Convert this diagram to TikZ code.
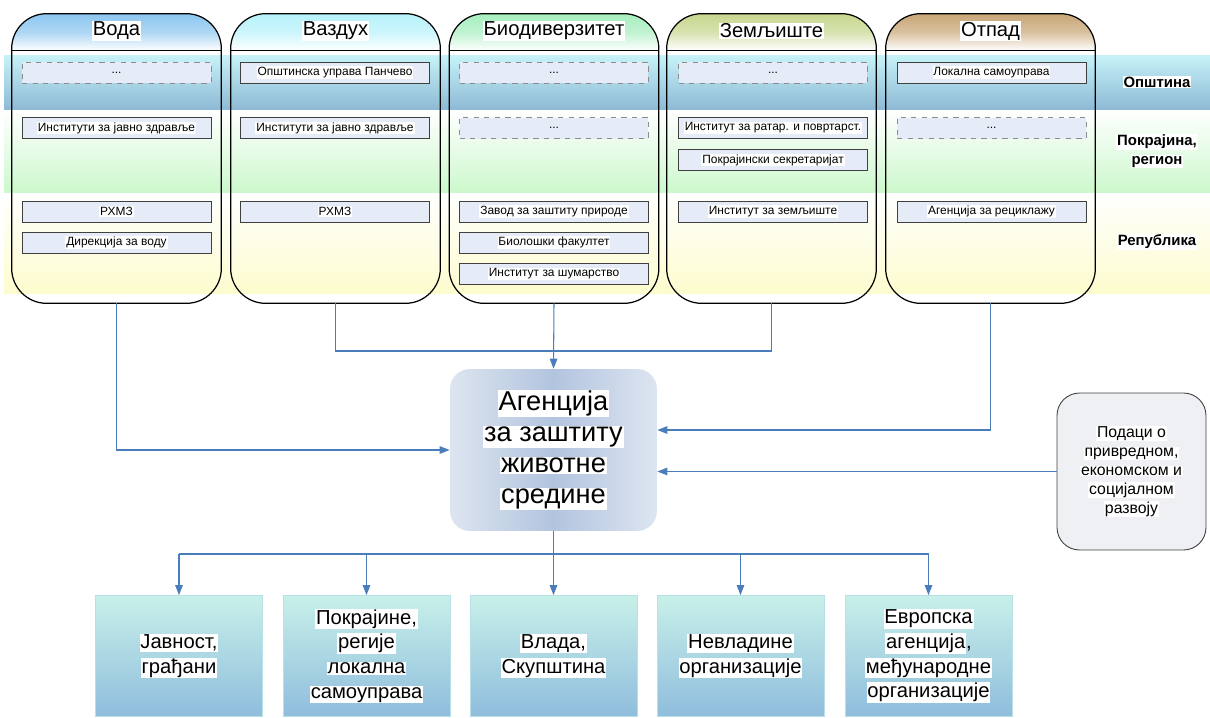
\documentclass[tikz,border=0pt]{standalone}
\usepackage{fontspec}
\setmainfont{Liberation Sans}
\usetikzlibrary{arrows.meta,positioning,calc}

\definecolor{linkblue}{HTML}{4A7EBB}
\definecolor{unitfill}{HTML}{E6ECF7}
\definecolor{bandtop}{HTML}{C6F2F8}
\definecolor{bandbottom}{HTML}{8DB9D5}
\definecolor{provbottom}{HTML}{CCF8CC}
\definecolor{repbottom}{HTML}{FDFCCE}
\definecolor{waterhead}{HTML}{8CC6F0}
\definecolor{airhead}{HTML}{B6F2FA}
\definecolor{biohead}{HTML}{A6EEBE}
\definecolor{soilhead}{HTML}{C6D68E}
\definecolor{wastehead}{HTML}{C8A676}
\definecolor{agencyside}{HTML}{DDE5F0}
\definecolor{agencymid}{HTML}{B2C4DF}
\definecolor{datafill}{HTML}{EEF0F4}
\definecolor{usertop}{HTML}{C8F0EA}
\definecolor{userbottom}{HTML}{8FBDDC}

% white patch behind each line of text
\newcommand{\whitebg}[1]{{\setlength{\fboxsep}{0.5pt}\colorbox{white}{#1}}}

\tikzset{
  column/.style={minimum width=4.18cm, minimum height=5.78cm, inner sep=0pt},
  headtext/.style={font=\fontsize{11.5}{13}\selectfont},
  unit/.style={draw=black!75, fill=unitfill, line width=0.5pt,
    minimum width=3.78cm, minimum height=0.42cm, inner sep=0pt,
    font=\fontsize{6.8}{8}\selectfont},
  unitopen/.style={unit, draw=black!45, dashed},
  level/.style={align=center, font=\bfseries\fontsize{8.5}{10.5}\selectfont},
  agency/.style={rounded corners=0.4cm, left color=agencyside,
    right color=agencyside, middle color=agencymid,
    minimum width=4.14cm, minimum height=3.24cm, align=center,
    font=\fontsize{15.5}{17.6}\selectfont},
  source/.style={draw=black!75, fill=datafill, rounded corners=0.45cm,
    line width=0.5pt, minimum width=2.98cm, minimum height=3.14cm,
    align=center, font=\fontsize{9}{10.8}\selectfont},
  user/.style={top color=usertop, bottom color=userbottom,
    draw=usertop!70!userbottom, line width=0.4pt,
    minimum width=3.34cm, minimum height=2.42cm, align=center,
    font=\fontsize{11.5}{14}\selectfont},
  feed/.style={draw=linkblue, line width=0.6pt},
  link/.style={feed, -{Triangle[length=2mm, width=1.5mm]}}
}

\begin{document}
\begin{tikzpicture}[x=0.02cm, y=-0.02cm]
    \useasboundingbox (0, 0) rectangle (1210, 717);

    % levels of government
    \shade [top color = bandtop, bottom color = bandbottom] (4, 55) rectangle (1210, 110);
    \shade [top color = white, bottom color = provbottom] (4, 110) rectangle (1210, 193);
    \shade [top color = white, bottom color = repbottom] (4, 193) rectangle (1210, 293);
    \node [level] at (1157, 82) (opstina) {\whitebg{Општина}};
    \node [level] at (1157, 151) (pokrajina) {\whitebg{Покрајина,}\\\whitebg{регион}};
    \node [level] at (1157, 242) (republika) {\whitebg{Република}};

    % topic columns
    \node [column] at (116.5, 158.5) (voda) {};
    \node [column] at (335.5, 158.5) (vazduh) {};
    \node [column] at (554, 158.5) (bio) {};
    \node [column] at (771.5, 158.5) (zemlja) {};
    \node [column] at (990.5, 158.5) (otpad) {};
    \foreach \col/\tint in {voda/waterhead, vazduh/airhead, bio/biohead, zemlja/soilhead, otpad/wastehead} {
        \begin{scope}
            \clip [rounded corners = 0.7cm] (\col.south west) rectangle (\col.north east);
            \shade [top color = \tint, bottom color = white, middle color = \tint!70!white] (\col.north west) rectangle ([yshift = -0.74cm]\col.north east);
        \end{scope}
        \draw [line width = 0.7pt, rounded corners = 0.7cm] (\col.south west) rectangle (\col.north east);
        \draw [line width = 0.7pt] ([yshift = -0.74cm]\col.north west) -- ([yshift = -0.74cm]\col.north east);
    }
    \node [headtext] at (116.5, 31) (vodahead) {\whitebg{Вода}};
    \node [headtext] at (335.5, 31) (vazduhhead) {\whitebg{Ваздух}};
    \node [headtext] at (554, 31) (biohead) {\whitebg{Биодиверзитет}};
    \node [headtext] at (771.5, 31) (zemljahead) {\whitebg{Земљиште}};
    \node [headtext] at (990.5, 31) (otpadhead) {\whitebg{Отпад}};

    % institutions in each column
    \node [unitopen] at (116.5, 72.5) (v1) {...};
    \node [unit] at (116.5, 128) (v2) {\whitebg{Институти за јавно здравље}};
    \node [unit] at (116.5, 211.5) (v3) {\whitebg{РХМЗ}};
    \node [unit] at (116.5, 242.5) (v4) {\whitebg{Дирекција за воду}};
    \node [unit] at (335, 72.5) (a1) {\whitebg{Општинска управа Панчево}};
    \node [unit] at (335, 128) (a2) {\whitebg{Институти за јавно здравље}};
    \node [unit] at (335, 211.5) (a3) {\whitebg{РХМЗ}};
    \node [unitopen] at (554, 72.5) (b1) {...};
    \node [unitopen] at (554, 128) (b2) {...};
    \node [unit] at (554, 211.5) (b3) {\whitebg{Завод за заштиту природе}};
    \node [unit] at (554, 242.5) (b4) {\whitebg{Биолошки факултет}};
    \node [unit] at (554, 274) (b5) {\whitebg{Институт за шумарство}};
    \node [unitopen] at (773, 72.5) (z1) {...};
    \node [unit] at (773, 128) (z2) {\whitebg{Институт за ратар. и повртарст.}};
    \node [unit] at (773, 160) (z3) {\whitebg{Покрајински секретаријат}};
    \node [unit] at (773, 211.5) (z4) {\whitebg{Институт за земљиште}};
    \node [unit] at (991.5, 72.5) (o1) {\whitebg{Локална самоуправа}};
    \node [unitopen] at (991.5, 128) (o2) {...};
    \node [unit] at (991.5, 211.5) (o3) {\whitebg{Агенција за рециклажу}};

    % the agency and its inputs
    \node [agency] at (553.5, 450) (agencija) {\whitebg{Агенција}\\\whitebg{за заштиту}\\\whitebg{животне}\\\whitebg{средине}};
    \node [source] at (1131.5, 471.5) (podaci) {\whitebg{Подаци о}\\\whitebg{привредном,}\\\whitebg{економском и}\\\whitebg{социјалном}\\\whitebg{развоју}};
    \coordinate (join) at (553.5, 351);
    \draw [link] (voda.south) |- (agencija.west);
    \draw [feed] (vazduh.south) |- (join) -| (zemlja.south);
    \draw [link] (bio.south) -- (agencija.north);
    \draw [link] (otpad.south) |- ([yshift = 0.4cm]agencija.east);
    \draw [link] (podaci.west) -- (podaci.west -| agencija.east);

    % who receives the reports
    \node [user] at (179, 656) (javnost) {\whitebg{Јавност,}\\\whitebg{грађани}};
    \node [user] at (366.5, 656) (pokrajine) {\whitebg{Покрајине,}\\\whitebg{регије}\\\whitebg{локална}\\\whitebg{самоуправа}};
    \node [user] at (553.5, 656) (vlada) {\whitebg{Влада,}\\\whitebg{Скупштина}};
    \node [user] at (740.5, 656) (nvo) {\whitebg{Невладине}\\\whitebg{организације}};
    \node [user] at (928.5, 656) (evropa) {\whitebg{Европска}\\\whitebg{агенција},\\\whitebg{међународне}\\\whitebg{организације}};
    \coordinate (split) at (553.5, 554);
    \draw [feed] (agencija.south) -- (split);
    \draw [feed] (split -| javnost.north) -- (split -| evropa.north);
    \draw [link] (split -| javnost.north) -- (javnost.north);
    \draw [link] (split -| pokrajine.north) -- (pokrajine.north);
    \draw [link] (split) -- (vlada.north);
    \draw [link] (split -| nvo.north) -- (nvo.north);
    \draw [link] (split -| evropa.north) -- (evropa.north);
\end{tikzpicture}
\end{document}
